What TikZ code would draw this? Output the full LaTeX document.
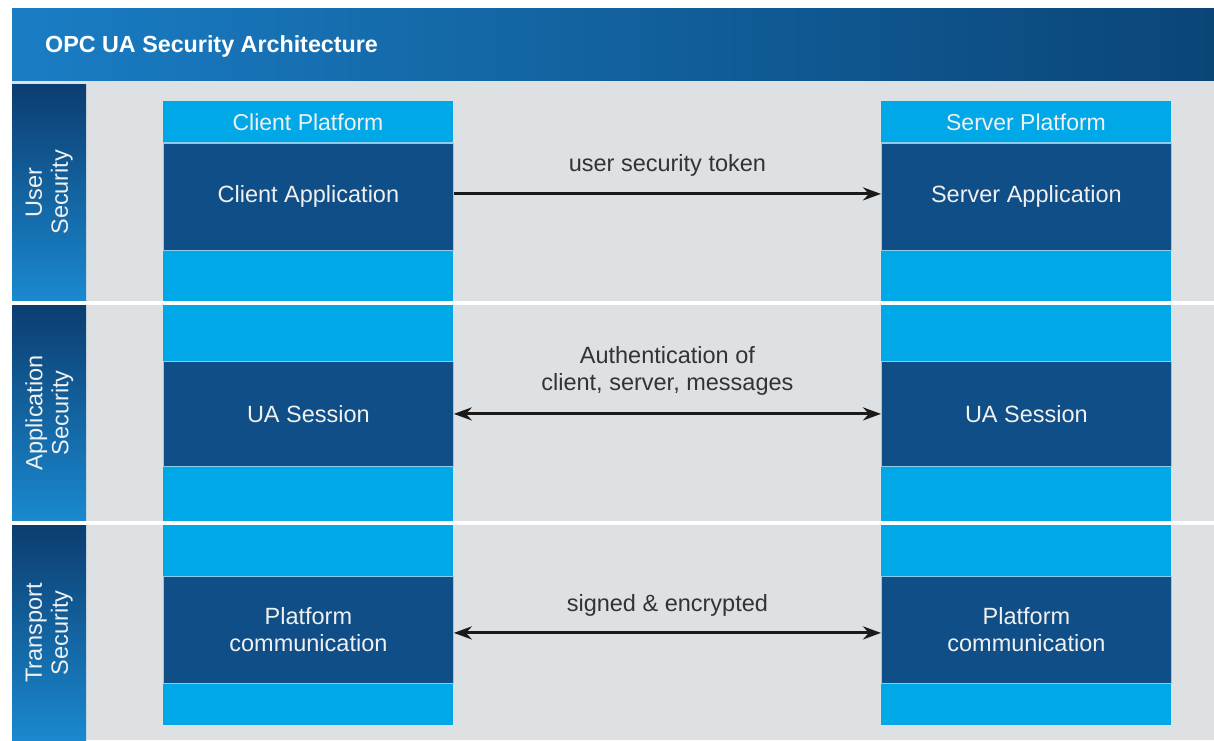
\documentclass[tikz,border=0pt]{standalone}
\usepackage{fontspec}
\setmainfont{Liberation Sans}
\usetikzlibrary{arrows.meta}
\definecolor{hdrL}{HTML}{1A7DC4}
\definecolor{hdrR}{HTML}{0A4577}
\definecolor{bgGray}{HTML}{DDE1E4}
\definecolor{lblTop}{HTML}{0C3D70}
\definecolor{lblBot}{HTML}{1A89CF}
\definecolor{lightBlue}{HTML}{00A8E8}
\definecolor{darkBlue}{HTML}{0F4E86}
\definecolor{paleLine}{HTML}{8CCDEB}
\definecolor{txtGray}{HTML}{333333}
\definecolor{arrowCol}{HTML}{1A1A1A}
\tikzset{
  x=1pt, y=-1pt,
  >={Stealth[length=18pt,width=13pt]},
  lblcol/.style={rectangle, inner sep=0pt, minimum width=74pt, anchor=north west, top color=lblTop, bottom color=lblBot},
  lighcol/.style={rectangle, inner sep=0pt, minimum width=290pt, anchor=north west, fill=lightBlue},
  darkbox/.style={rectangle, inner sep=0pt, minimum width=290pt, minimum height=107pt, anchor=north west, fill=darkBlue, draw=paleLine, line width=0.8pt, text=white!94!black, font=\fontsize{23.5}{27}\selectfont, align=center},
  platlbl/.style={text=white!94!black, font=\fontsize{23}{25}\selectfont},
  sidelbl/.style={rotate=90, text=white!94!black, font=\fontsize{23.5}{26}\selectfont, align=center},
  conn/.style={line width=3pt, draw=arrowCol},
  connlbl/.style={text=txtGray, font=\fontsize{23.5}{27}\selectfont, align=center}
}
\begin{document}
\begin{tikzpicture}
\useasboundingbox (0,0) rectangle (1214,740);
\fill[white] (0,0) rectangle (1214,740);
% background
\fill[bgGray] (12,80) rectangle (1214,740);
% header
\node[rectangle, inner sep=0pt, anchor=north west, minimum width=1202pt, minimum height=72pt, left color=hdrL, right color=hdrR] (hdr) at (12,8) {};
\node[anchor=west, inner sep=0pt, text=white, font=\bfseries\fontsize{23.3}{26}\selectfont] (title) at (45,46) {OPC UA Security Architecture};
% side labels
\node[lblcol, minimum height=216pt] (us) at (12,84) {};
\node[lblcol, minimum height=215pt] (as) at (12,305) {};
\node[lblcol, minimum height=215pt] (ts) at (12,525) {};
\node[sidelbl] at (us.center) {User\\Security};
\node[sidelbl] at (as.center) {Application\\Security};
\node[sidelbl] at (ts.center) {Transport\\Security};
% light columns
\node[lighcol, minimum height=624pt] (ccol) at (163,101) {};
\node[lighcol, minimum height=624pt] (scol) at (881,101) {};
% separators
\draw[white, line width=4pt] (12,302.5) -- (1214,302.5);
\draw[white, line width=4pt] (12,522.5) -- (1214,522.5);
% platform labels
\draw[paleLine, line width=0.8pt] (163,142.5) -- (453,142.5);
\draw[paleLine, line width=0.8pt] (881,142.5) -- (1171,142.5);
\node[platlbl] (cp) at (308,122) {Client Platform};
\node[platlbl] (sp) at (1026,122) {Server Platform};
% dark boxes
\node[darkbox] (ca) at (163,143) {Client Application};
\node[darkbox] (sa) at (881,143) {Server Application};
\node[darkbox, minimum height=105pt] (cu) at (163,361) {UA Session};
\node[darkbox, minimum height=105pt] (su) at (881,361) {UA Session};
\node[darkbox] (cpc) at (163,576) {Platform\\communication};
\node[darkbox] (spc) at (881,576) {Platform\\communication};
% connectors
\draw[conn, ->] ([yshift=3pt]ca.east) -- ([yshift=3pt]sa.west) node[connlbl, midway, yshift=28pt] {user security token};
\draw[conn, <->] (cu.east) -- (su.west) node[connlbl, midway, yshift=43pt] {Authentication of\\client, server, messages};
\draw[conn, <->] ([yshift=-3pt]cpc.east) -- ([yshift=-3pt]spc.west) node[connlbl, midway, yshift=27pt] {signed \& encrypted};
\end{tikzpicture}
\end{document}
